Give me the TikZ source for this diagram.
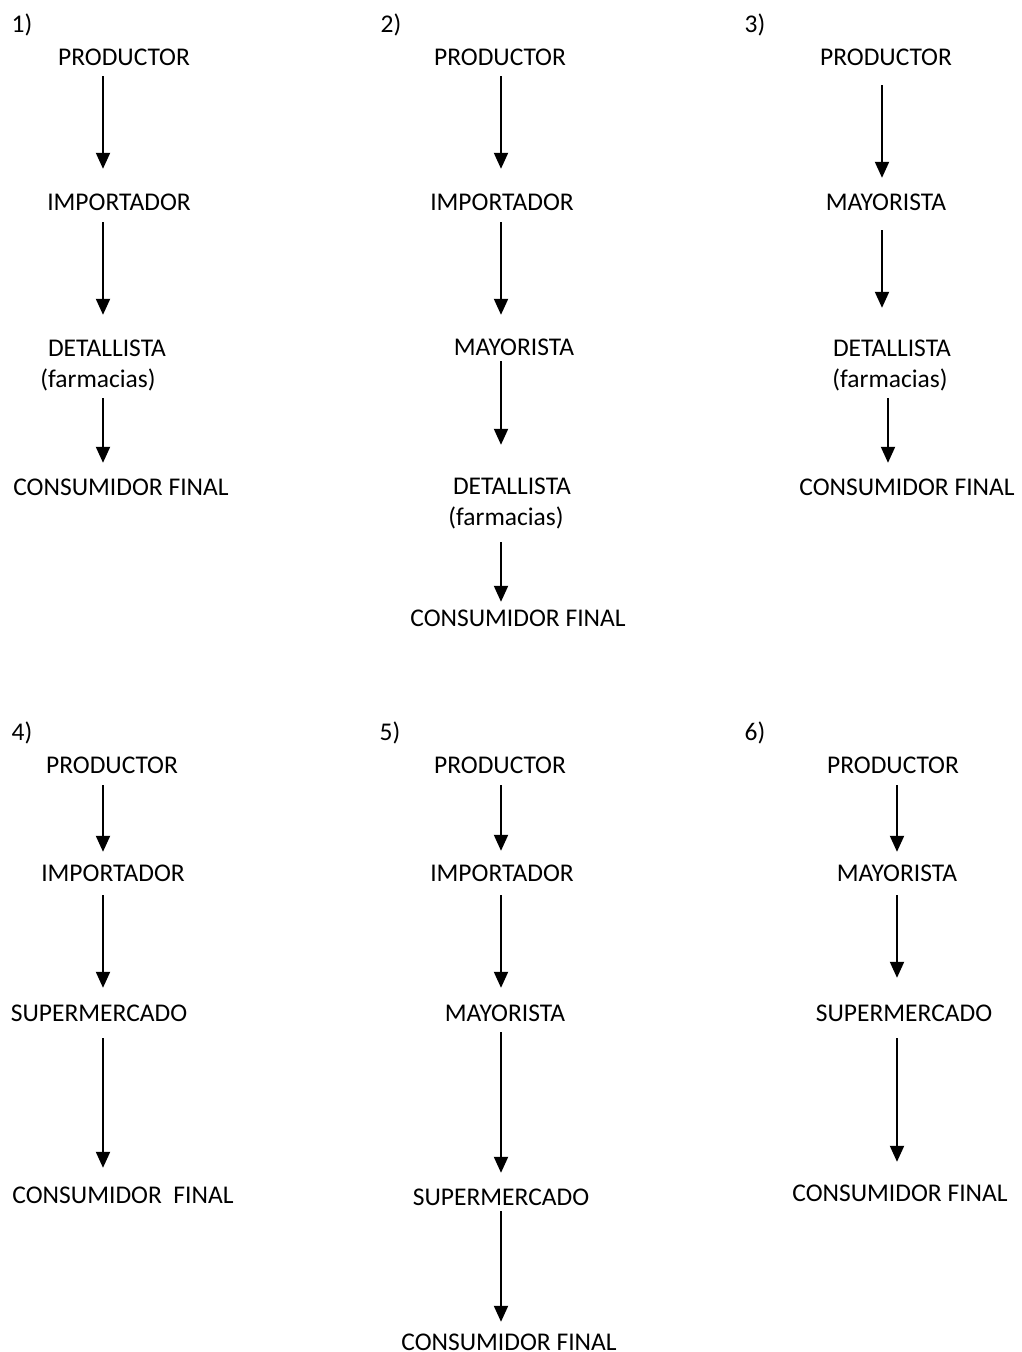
\documentclass[tikz,border=0pt]{standalone}
\usepackage{fontspec}
\setmainfont{Carlito}
\usepackage{tikz}
\usetikzlibrary{arrows.meta}

\begin{document}
\begin{tikzpicture}[
  x=1pt, y=-1pt,
  lbl/.style={inner sep=0pt, text height=16pt, text depth=0pt,
              font=\fontsize{25.5}{31}\selectfont},
  arr/.style={-{Triangle[length=16pt, width=14pt]}, line width=2pt}
]
\useasboundingbox (0,0) rectangle (1021,1352);
% columns for the arrows
\coordinate (colA) at (103,0);
\coordinate (colB) at (501,0);
\coordinate (colC) at (882,0);
\coordinate (colD) at (888,0);
\coordinate (colE) at (897,0);

% 1)
\node[lbl] (tag1) at (22,24) {1)};
\node[lbl] (prod1) at (124,57) {PRODUCTOR};
\node[lbl] (imp1) at (119,202) {IMPORTADOR};
\node[lbl] (det1) at (107,348) {DETALLISTA};
\node[lbl] (far1) at (98,379) {(farmacias)};
\node[lbl] (cons1) at (121,487) {CONSUMIDOR FINAL};
% 2)
\node[lbl] (tag2) at (391,24) {2)};
\node[lbl] (prod2) at (500,57) {PRODUCTOR};
\node[lbl] (imp2) at (502,202) {IMPORTADOR};
\node[lbl] (may2) at (514,347) {MAYORISTA};
\node[lbl] (det2) at (512,486) {DETALLISTA};
\node[lbl] (far2) at (506,517) {(farmacias)};
\node[lbl] (cons2) at (518,618) {CONSUMIDOR FINAL};
% 3)
\node[lbl] (tag3) at (755,24) {3)};
\node[lbl] (prod3) at (886,57) {PRODUCTOR};
\node[lbl] (may3) at (886,202) {MAYORISTA};
\node[lbl] (det3) at (892,348) {DETALLISTA};
\node[lbl] (far3) at (890,379) {(farmacias)};
\node[lbl] (cons3) at (907,487) {CONSUMIDOR FINAL};
% 4)
\node[lbl] (tag4) at (22,732) {4)};
\node[lbl] (prod4) at (112,765) {PRODUCTOR};
\node[lbl] (imp4) at (113,873) {IMPORTADOR};
\node[lbl] (sup4) at (99,1013) {SUPERMERCADO};
\node[lbl] (cons4) at (123,1195) {CONSUMIDOR~~FINAL};
% 5)
\node[lbl] (tag5) at (390,732) {5)};
\node[lbl] (prod5) at (500,765) {PRODUCTOR};
\node[lbl] (imp5) at (502,873) {IMPORTADOR};
\node[lbl] (may5) at (505,1013) {MAYORISTA};
\node[lbl] (sup5) at (501,1197) {SUPERMERCADO};
\node[lbl] (cons5) at (509,1342) {CONSUMIDOR FINAL};
% 6)
\node[lbl] (tag6) at (755,732) {6)};
\node[lbl] (prod6) at (893,765) {PRODUCTOR};
\node[lbl] (may6) at (897,873) {MAYORISTA};
\node[lbl] (sup6) at (904,1013) {SUPERMERCADO};
\node[lbl] (cons6) at (900,1193) {CONSUMIDOR FINAL};

\foreach \a/\b/\c/\s/\e in {prod1/imp1/colA/11pt/25pt, imp1/det1/colA/12pt/25pt,
                            far1/cons1/colA/11pt/16pt,
                            prod2/imp2/colB/11pt/25pt, imp2/may2/colB/12pt/24pt,
                            may2/det2/colB/6pt/33pt, far2/cons2/colB/17pt/8pt,
                            prod3/may3/colC/20pt/16pt, may3/det3/colC/20pt/32pt,
                            far3/cons3/colD/11pt/16pt,
                            prod4/imp4/colA/12pt/13pt, imp4/sup4/colA/14pt/17pt,
                            sup4/cons4/colA/17pt/19pt,
                            prod5/imp5/colB/12pt/14pt, imp5/may5/colB/14pt/17pt,
                            may5/sup5/colB/11pt/16pt, sup5/cons5/colB/6pt/12pt,
                            prod6/may6/colE/12pt/13pt, may6/sup6/colE/14pt/27pt,
                            sup6/cons6/colE/17pt/23pt}
  \draw[arr, shorten <=\s, shorten >=\e] (\a.south -| \c) -- (\b.north -| \c);
\end{tikzpicture}
\end{document}
